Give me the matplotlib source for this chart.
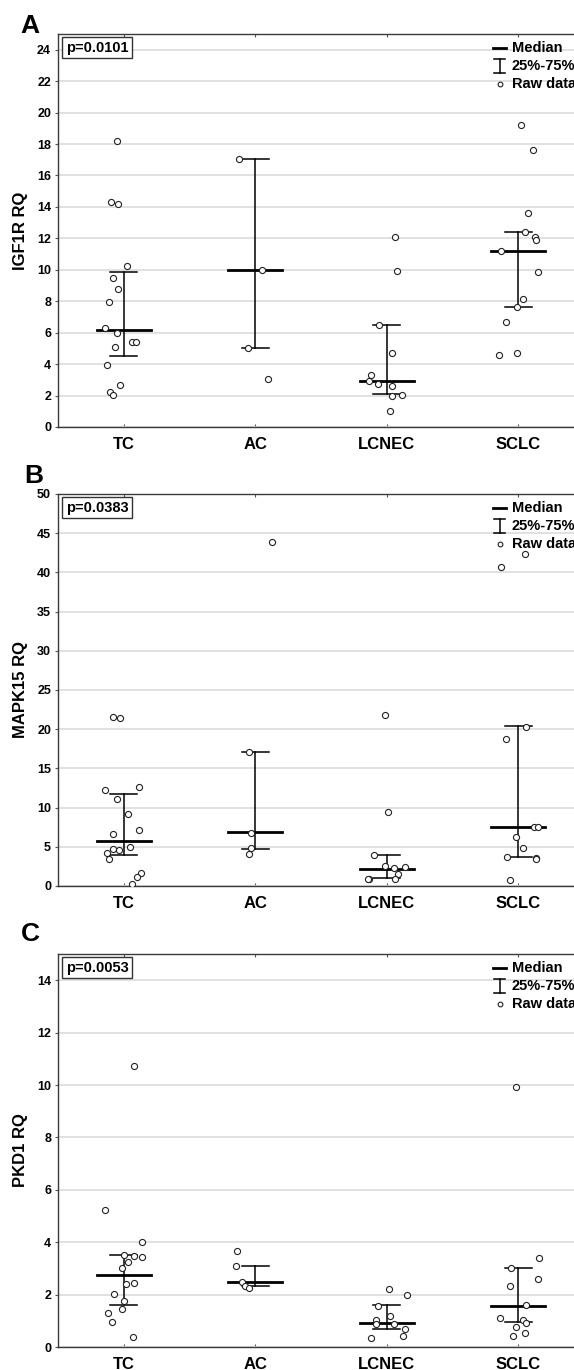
import matplotlib
matplotlib.use('Agg')
import matplotlib.pyplot as plt
import numpy as np

plt.rcParams['font.family'] = ['Liberation Sans', 'DejaVu Sans']
plt.rcParams['font.weight'] = 'bold'

groups = ['TC', 'AC', 'LCNEC', 'SCLC']

# IGF1R RQ (panel A)
igf1r_raw = [
    [18.17, 14.32, 14.17, 10.21, 9.48, 8.78, 7.98, 6.32, 6.00, 5.06, 5.40, 5.40, 3.92, 2.68, 2.25, 2.04],
    [17.06, 9.96, 5.00, 3.04],
    [12.06, 9.94, 6.49, 4.68, 3.29, 2.91, 2.72, 2.59, 1.96, 2.06, 1.00],
    [19.23, 17.62, 13.60, 12.38, 12.06, 11.90, 11.21, 9.83, 8.13, 7.62, 6.68, 4.57, 4.68],
]
igf1r_median = [6.17, 10.0, 2.91, 11.21]
igf1r_q1 = [4.49, 5.0, 2.08, 7.62]
igf1r_q3 = [9.85, 17.06, 6.49, 12.38]
igf1r_p = '0.0101'

# MAPK15 RQ (panel B)
mapk15_raw = [
    [21.53, 21.49, 12.29, 12.59, 11.15, 9.15, 6.57, 7.12, 4.75, 4.96, 4.53, 4.24, 3.47, 1.70, 1.19, 0.21],
    [43.85, 17.08, 6.78, 4.79, 4.11],
    [21.87, 9.45, 3.90, 2.55, 2.25, 2.46, 1.53, 0.93, 0.93, 0.85],
    [42.33, 40.72, 20.34, 18.73, 7.50, 7.50, 6.27, 4.79, 3.64, 3.56, 3.40, 0.76],
]
mapk15_median = [5.76, 6.83, 2.16, 7.50]
mapk15_q1 = [3.90, 4.70, 0.98, 3.64]
mapk15_q3 = [11.74, 17.12, 3.95, 20.47]
mapk15_p = '0.0383'

# PKD1 RQ (panel C)
pkd1_raw = [
    [10.71, 5.24, 4.01, 3.52, 3.48, 3.45, 3.24, 3.03, 2.40, 2.45, 2.04, 1.77, 1.45, 1.30, 0.96, 0.38],
    [3.68, 3.11, 2.48, 2.33, 2.25],
    [2.20, 1.99, 1.58, 1.17, 1.02, 0.89, 0.89, 0.70, 0.42, 0.36],
    [9.94, 3.41, 3.02, 2.61, 2.33, 1.59, 1.12, 1.02, 0.92, 0.78, 0.43, 0.52],
]
pkd1_median = [2.75, 2.47, 0.90, 1.57]
pkd1_q1 = [1.59, 2.33, 0.70, 0.96]
pkd1_q3 = [3.50, 3.10, 1.59, 3.02]
pkd1_p = '0.0053'

# horizontal jitter of the raw points (category units)
igf1r_jitter = [
    [-0.05, -0.094, -0.043, 0.025, -0.081, -0.043, -0.112, -0.145, -0.05, -0.066, 0.064, 0.092, -0.125, -0.025, -0.107, -0.081],
    [-0.12, 0.048, -0.056, 0.094],
    [0.064, 0.076, -0.061, 0.038, -0.12, -0.137, -0.069, 0.038, 0.043, 0.117, 0.023],
    [0.018, 0.112, 0.071, 0.051, 0.125, 0.135, -0.13, 0.150, 0.038, -0.01, -0.094, -0.148, -0.01],
]
mapk15_jitter = [
    [-0.079, -0.025, -0.142, 0.117, -0.051, 0.031, -0.079, 0.117, -0.084, 0.048, -0.033, -0.127, -0.112, 0.130, 0.097, 0.061],
    [0.125, -0.048, -0.036, -0.031, -0.046],
    [-0.01, 0.013, -0.094, -0.01, 0.053, 0.142, 0.089, 0.064, -0.132, -0.14],
    [0.048, -0.132, 0.056, -0.094, 0.12, 0.148, -0.015, 0.036, -0.089, 0.137, 0.132, -0.061],
]
pkd1_jitter = [
    [0.076, -0.142, 0.135, 0.0, 0.076, 0.14, 0.031, -0.01, 0.015, 0.081, -0.071, 0.005, -0.01, -0.122, -0.089, 0.071],
    [-0.135, -0.145, -0.099, -0.081, -0.048],
    [0.018, 0.153, -0.066, 0.025, -0.081, -0.081, 0.053, 0.135, 0.127, -0.117],
    [-0.018, 0.158, -0.056, 0.15, -0.066, 0.059, -0.142, 0.033, 0.061, -0.02, -0.038, 0.051],
]

W, H = 574, 1370
fig = plt.figure(figsize=(W / 100, H / 100), dpi=100)

spine_col = '#3a3a3a'
grid_col = '#dedede'


def px_axes(left, top, right, bottom):
    return fig.add_axes([left / W, 1 - bottom / H, (right - left) / W, (bottom - top) / H])


def panel(ax, raw, jitter, med, q1, q3, pval, ylabel, ymax, ystep):
    x = np.arange(1, len(groups) + 1)
    ax.set_xlim(0.5, len(groups) + 0.5)
    ax.set_ylim(0, ymax)
    ax.set_yticks(np.arange(0, ymax + 0.01, ystep))
    ax.yaxis.grid(True, color=grid_col, lw=1.3)
    ax.set_axisbelow(True)

    for i, xi in enumerate(x):
        # 25%-75% bar
        ax.plot([xi, xi], [q1[i], q3[i]], color='black', lw=1.1, zorder=3)
        for q in (q1[i], q3[i]):
            ax.plot([xi - 0.103, xi + 0.103], [q, q], color='black', lw=1.1, zorder=3)
        # median
        ax.plot([xi - 0.205, xi + 0.205], [med[i], med[i]], color='black', lw=2.0, zorder=3)
        # raw data
        xs = xi + np.array(jitter[i])
        ax.plot(xs, raw[i], 'o', ms=4.4, mfc='white', mec='#222222', mew=0.8, zorder=4)

    ax.set_xticks(x)
    ax.set_xticklabels(groups, fontsize=12, fontweight='bold')
    ax.tick_params(axis='x', direction='in', length=2.5, top=True, pad=7,
                   color='#555555')
    ax.tick_params(axis='y', direction='out', length=2, pad=3, labelsize=9,
                   color='#555555')
    for lab in ax.get_yticklabels():
        lab.set_fontweight('bold')
    for s in ax.spines.values():
        s.set_color(spine_col)
        s.set_linewidth(1.0)

    ax.set_ylabel(ylabel, fontsize=12, fontweight='bold')
    ax.yaxis.set_label_coords(-0.057, 0.5)

    ax.text(0.0145, 0.983, 'p=' + pval, transform=ax.transAxes, ha='left', va='top',
            fontsize=10.5, fontweight='bold',
            bbox=dict(boxstyle='square,pad=0.25', fc='white', ec='#333333', lw=1.0),
            zorder=6)

    # legend drawn by hand
    hpx = ax.get_position().height * H
    def fy(off):
        return 1 - off / hpx
    tr = ax.transAxes
    ax.plot([0.827, 0.852], [fy(14), fy(14)], color='black', lw=2.0,
            transform=tr, clip_on=False, zorder=6)
    ax.plot([0.8395, 0.8395], [fy(25), fy(39)], color='black', lw=1.1,
            transform=tr, clip_on=False, zorder=6)
    for off in (25, 39):
        ax.plot([0.829, 0.850], [fy(off), fy(off)], color='black', lw=1.1,
                transform=tr, clip_on=False, zorder=6)
    ax.plot([0.8395], [fy(50)], 'o', ms=3.4, mfc='white', mec='#222222', mew=0.8,
            transform=tr, clip_on=False, zorder=6)
    for off, txt in ((14, 'Median'), (32, '25%-75%'), (50, 'Raw data')):
        ax.text(0.863, fy(off), txt, transform=tr, ha='left', va='center',
                fontsize=10.5, fontweight='bold', zorder=6)


axA = px_axes(58, 34, 584, 427)
panel(axA, igf1r_raw, igf1r_jitter, igf1r_median, igf1r_q1, igf1r_q3, igf1r_p,
      'IGF1R RQ', 25, 2)

axB = px_axes(58, 494, 584, 886)
panel(axB, mapk15_raw, mapk15_jitter, mapk15_median, mapk15_q1, mapk15_q3, mapk15_p,
      'MAPK15 RQ', 50, 5)

axC = px_axes(58, 954, 584, 1347)
panel(axC, pkd1_raw, pkd1_jitter, pkd1_median, pkd1_q1, pkd1_q3, pkd1_p,
      'PKD1 RQ', 15, 2)

for letter, xp, yp in (('A', 20, 33), ('B', 24, 483), ('C', 21, 941)):
    fig.text(xp / W, 1 - yp / H, letter, fontsize=19, fontweight='bold',
             ha='left', va='baseline')

fig.savefig('out.png', dpi=100)
